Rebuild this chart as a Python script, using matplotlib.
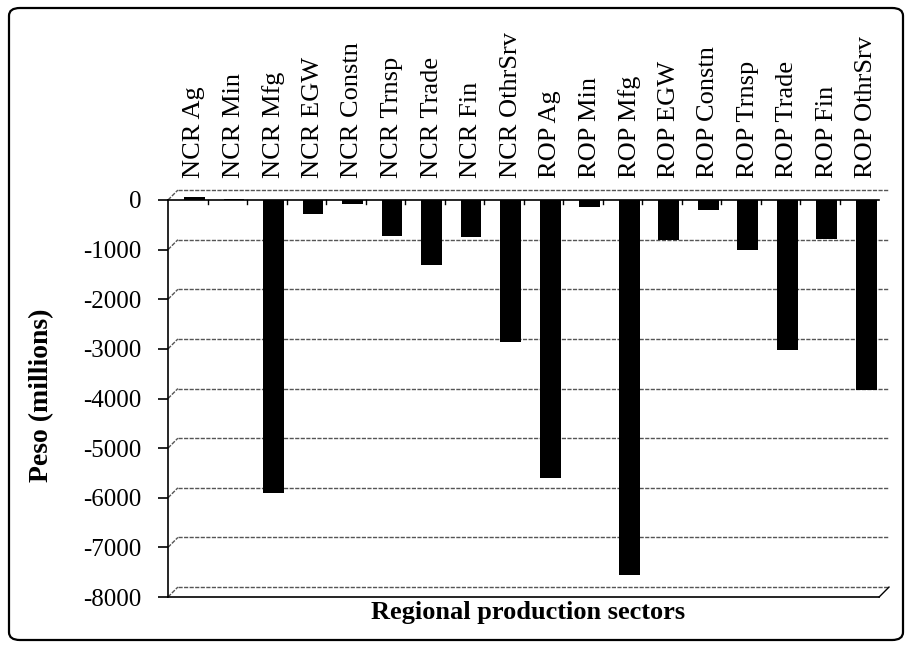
"""
Regional production sectors - change in output (Peso millions)
"""

import matplotlib.pyplot as plt
from matplotlib.patches import FancyBboxPatch
import numpy as np

sectors = ['NCR Ag', 'NCR Min', 'NCR Mfg', 'NCR EGW', 'NCR Constn', 'NCR Trnsp',
           'NCR Trade', 'NCR Fin', 'NCR OthrSrv',
           'ROP Ag', 'ROP Min', 'ROP Mfg', 'ROP EGW', 'ROP Constn', 'ROP Trnsp',
           'ROP Trade', 'ROP Fin', 'ROP OthrSrv']
values = [60, 30, -5900, -290, -80, -720, -1300, -750, -2860,
          -5600, -150, -7550, -800, -200, -1000, -3020, -780, -3830]
yticks = [0, -1000, -2000, -3000, -4000, -5000, -6000, -7000, -8000]

plt.rcParams['font.family'] = ['Liberation Serif', 'DejaVu Serif']

fig = plt.figure(figsize=(9.10, 6.47), dpi=100)
ax = fig.add_axes([168 / 910, 50 / 647, 721 / 910, 397 / 647])

x = np.arange(len(sectors)) + 0.17
ax.bar(x, values, width=0.53, color='black', zorder=3, clip_on=False)

# pseudo 3-D back wall offset
x0, x1 = -0.5, len(sectors) - 0.5
dx, dy = 0.25, 200
grid_kw = dict(color='#555555', lw=1.0, ls=(0, (3, 1)), zorder=1, clip_on=False)
for v in yticks:
    ax.plot([x0 + dx, x1 + dx], [v + dy, v + dy], **grid_kw)
    ax.plot([x0, x0 + dx], [v, v + dy], **grid_kw)

# zero line (front) and floor
ax.plot([x0, x1], [0, 0], color='black', lw=1.2, zorder=2, clip_on=False)
ax.plot([x0, x1], [-8000, -8000], color='black', lw=1.2, zorder=2, clip_on=False)
ax.plot([x1, x1 + dx], [-8000, -8000 + dy], color='black', lw=1.0, zorder=2, clip_on=False)
for xi in np.arange(x0 + 1, x1, 1):
    ax.plot([xi, xi], [0, -90], color='black', lw=1.0, zorder=2, clip_on=False)

ax.set_xlim(x0, x1 + dx)
ax.set_ylim(-8000, 0)
ax.set_yticks(yticks)
ax.set_yticklabels([str(v) for v in yticks], fontsize=18)
ax.tick_params(axis='y', length=7, width=1.2, direction='out', pad=12)

ax.xaxis.tick_top()
ax.set_xticks(x)
ax.set_xticklabels(sectors, rotation=90, fontsize=19)
ax.tick_params(axis='x', length=0, pad=16)

for side in ['top', 'right', 'bottom']:
    ax.spines[side].set_visible(False)
ax.spines['left'].set_linewidth(1.2)

fig.text(42 / 910, 1 - 395 / 647, 'Peso (millions)', rotation=90, ha='center',
         va='center', fontsize=20, fontweight='bold')
fig.text(528 / 910, 1 - 613 / 647, 'Regional production sectors', ha='center',
         va='center', fontsize=19, fontweight='bold')

# outer frame of the scanned figure
frame = FancyBboxPatch((9 / 910, 7 / 647), 894 / 910, 632 / 647,
                       boxstyle='round,pad=0,rounding_size=0.012',
                       transform=fig.transFigure, fill=False, lw=1.6, ec='black')
fig.patches.append(frame)

plt.savefig('out.png', dpi=100)
